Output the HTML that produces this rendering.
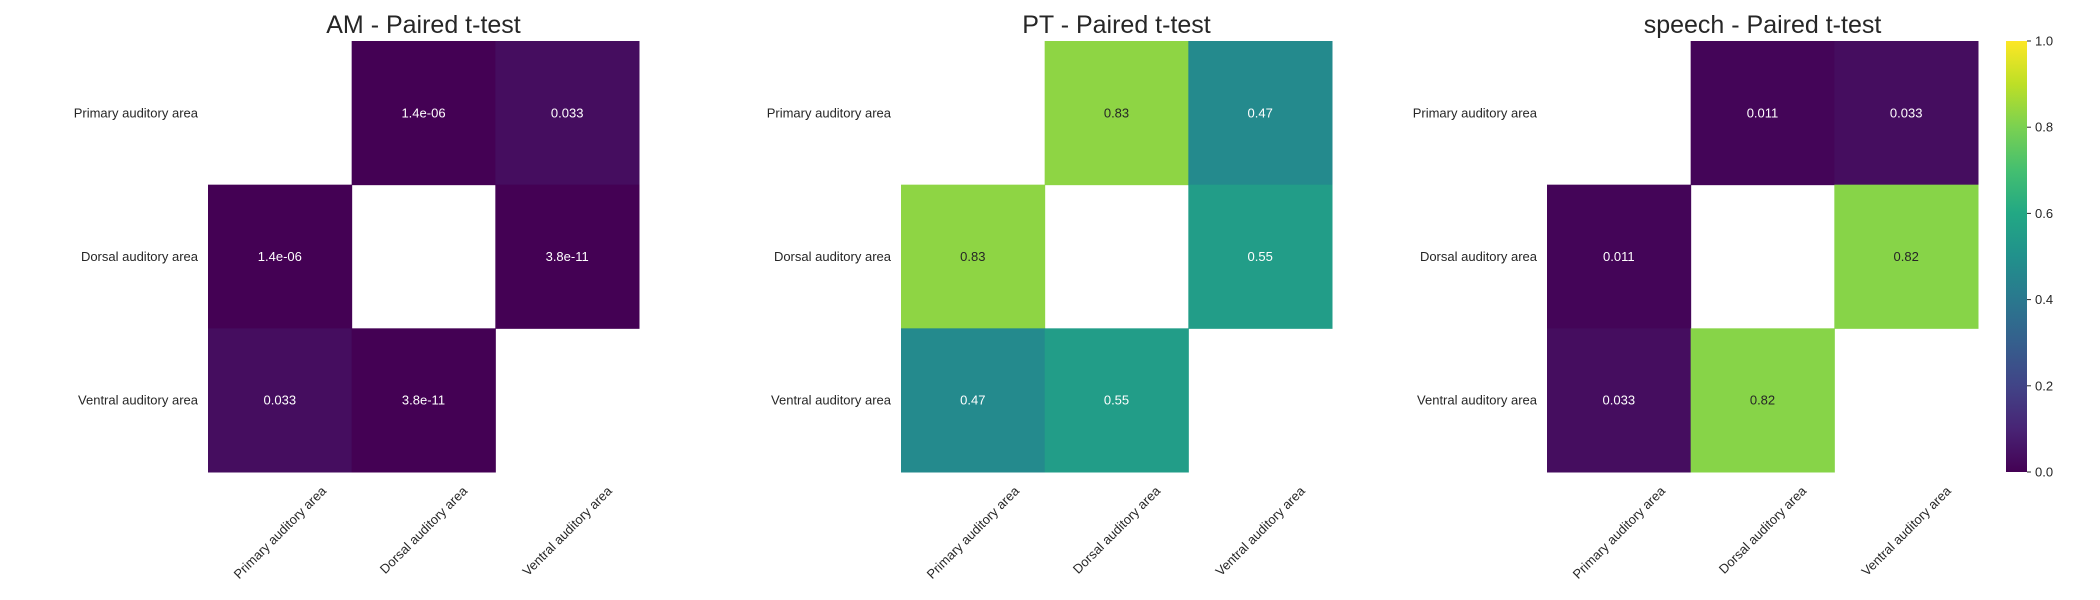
<!DOCTYPE html>
<html><head><meta charset="utf-8"><style>
html,body{margin:0;padding:0;background:#fff;}
svg{display:block;font-family:"Liberation Sans",Arial,sans-serif;}
</style></head><body>
<svg id="chart" width="2100" height="600" viewBox="0 0 2100 600" xmlns="http://www.w3.org/2000/svg"></svg>
<script>
const categories = ["Primary auditory area","Dorsal auditory area","Ventral auditory area"];
const panelTitles = ["AM - Paired t-test","PT - Paired t-test","speech - Paired t-test"];
const amValues = [[null,1.4e-6,0.033],[1.4e-6,null,3.8e-11],[0.033,3.8e-11,null]];
const ptValues = [[null,0.83,0.47],[0.83,null,0.55],[0.47,0.55,null]];
const speechValues = [[null,0.011,0.033],[0.011,null,0.82],[0.033,0.82,null]];
const amLabels = [[null,"1.4e-06","0.033"],["1.4e-06",null,"3.8e-11"],["0.033","3.8e-11",null]];
const ptLabels = [[null,"0.83","0.47"],["0.83",null,"0.55"],["0.47","0.55",null]];
const speechLabels = [[null,"0.011","0.033"],["0.011",null,"0.82"],["0.033","0.82",null]];
const colorbarTicks = [0,0.2,0.4,0.6,0.8,1.0];
const colorbarTickLabels = ["0.0","0.2","0.4","0.6","0.8","1.0"];

const NS="http://www.w3.org/2000/svg";
const svg=document.getElementById('chart');
const vir=[[0,68,1,84],[0.1,72,36,117],[0.2,65,68,135],[0.3,53,95,141],[0.4,42,120,142],[0.5,33,145,140],[0.6,34,168,132],[0.7,68,191,112],[0.8,122,209,81],[0.9,189,223,38],[1,253,231,37]];
function viridis(v){v=Math.max(0,Math.min(1,v));for(let i=1;i<vir.length;i++){if(v<=vir[i][0]){const a=vir[i-1],b=vir[i],t=(v-a[0])/(b[0]-a[0]);return `rgb(${[1,2,3].map(k=>Math.round(a[k]+(b[k]-a[k])*t)).join(',')})`;}}return 'rgb(253,231,37)';}
function mk(tag,attrs,parent){const e=document.createElementNS(NS,tag);for(const k in attrs)e.setAttribute(k,attrs[k]);(parent||svg).appendChild(e);return e;}

const panels=[{x0:208,vals:amValues,labs:amLabels},{x0:901,vals:ptValues,labs:ptLabels},{x0:1547,vals:speechValues,labs:speechLabels}];
const y0=41, size=431, n=categories.length, cell=size/n;
function xScale(p,j){return panels[p].x0+j*cell;}
function yScale(i){return y0+i*cell;}

panels.forEach((p,pi)=>{
  const g=mk('g',{});
  
  
  const t=mk('text',{x:p.x0+size/2,y:33,'text-anchor':'middle','font-size':25,fill:'#262626'},g);
  t.textContent=panelTitles[pi];
  
  
  for(let i=0;i<n;i++)for(let j=0;j<n;j++){
    const v=p.vals[i][j]; if(v===null)continue;
    const r=mk('rect',{x:xScale(pi,j),y:yScale(i),width:cell+0.5,height:cell+0.5,fill:viridis(v)},g);
    
    
    const tx=mk('text',{x:xScale(pi,j)+cell/2,y:yScale(i)+cell/2,'text-anchor':'middle','dominant-baseline':'central','font-size':13,fill:v>0.6?'#262626':'#ffffff'},g);
    tx.textContent=p.labs[i][j];
    
    
  }
  categories.forEach((c,i)=>{
    const yl=mk('text',{x:p.x0-10,y:yScale(i)+cell/2,'text-anchor':'end','dominant-baseline':'central','font-size':13,fill:'#262626'},g);
    yl.textContent=c;
    
    
    const cx=xScale(pi,i)+cell/2;
    const xl=mk('text',{x:cx,y:0,'text-anchor':'middle','dominant-baseline':'central','font-size':13,fill:'#262626'},g);
    xl.textContent=c;
    
    
    const L=xl.getComputedTextLength();
    const half=(L+13)*0.7071/2;
    const cy=484+half;
    xl.setAttribute('y',cy);
    xl.setAttribute('transform',`rotate(-45 ${cx} ${cy})`);
  });
});

const cb=mk('g',{});


const defs=mk('defs',{});
const grad=mk('linearGradient',{id:'vg',x1:0,y1:1,x2:0,y2:0},defs);
vir.forEach(s=>mk('stop',{offset:s[0],'stop-color':`rgb(${s[1]},${s[2]},${s[3]})`},grad));
const cbx=2006,cbw=21;
function cbScale(v){return y0+size-v*size;}
const cbr=mk('rect',{x:cbx,y:y0,width:cbw,height:size,fill:'url(#vg)'},cb);


colorbarTicks.forEach((v,k)=>{
  mk('line',{x1:cbx+cbw,x2:cbx+cbw+4,y1:cbScale(v),y2:cbScale(v),stroke:'#262626','stroke-width':1},cb);
  const tl=mk('text',{x:cbx+cbw+8,y:cbScale(v),'dominant-baseline':'central','font-size':13,fill:'#262626'},cb);
  tl.textContent=colorbarTickLabels[k];
  
  
});
</script>
</body></html>
